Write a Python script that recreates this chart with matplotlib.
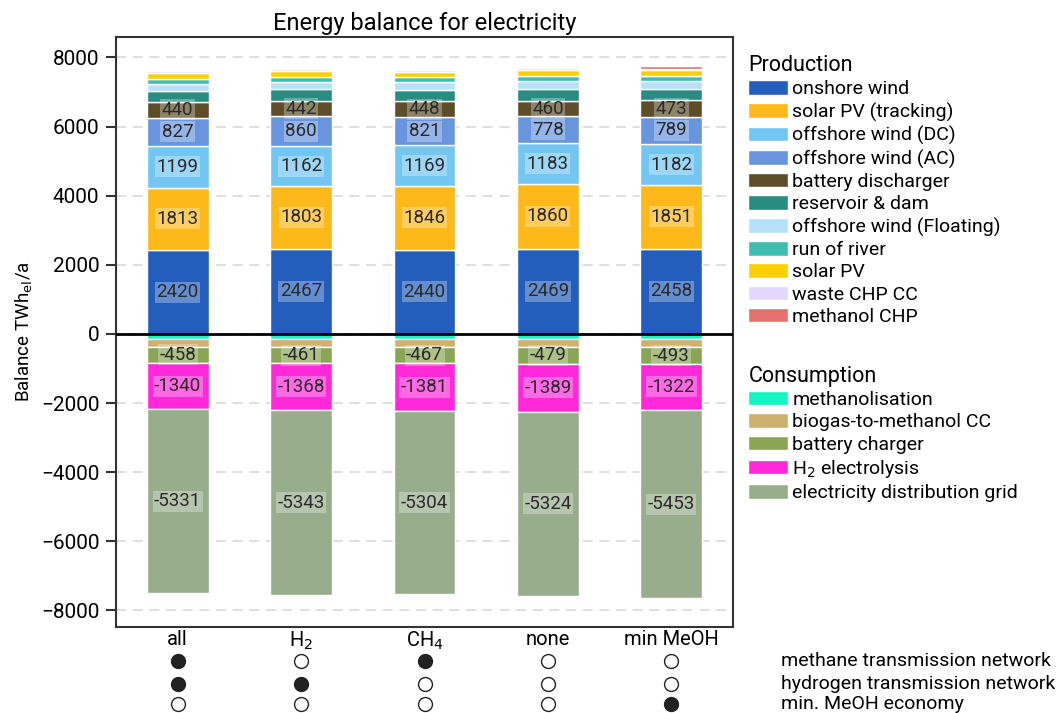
import numpy as np
import matplotlib
matplotlib.use("Agg")
from matplotlib import pyplot as plt
from matplotlib.patches import Patch

plt.rcParams['font.family'] = ['Roboto', 'DejaVu Sans']

scenarios = ["all", "H$_2$", "CH$_4$", "none", "min MeOH"]

prod_names = ["onshore wind", "solar PV (tracking)", "offshore wind (DC)", "offshore wind (AC)",
              "battery discharger", "reservoir & dam", "offshore wind (Floating)", "run of river",
              "solar PV", "waste CHP CC", "methanol CHP"]
prod_colors = ["#235ebc", "#fdb81a", "#74c6f2", "#6895dd", "#5d4e29", "#298c81", "#b5e2fa",
               "#3dbfb0", "#f9d002", "#e3d6ff", "#e5716f"]
prod_values = [
    [2420, 2467, 2440, 2469, 2458],   # onshore wind
    [1813, 1803, 1846, 1860, 1851],   # solar PV (tracking)
    [1199, 1162, 1169, 1183, 1182],   # offshore wind (DC)
    [827, 860, 821, 778, 789],        # offshore wind (AC)
    [440, 442, 448, 460, 473],        # battery discharger
    [330, 340, 330, 340, 340],        # reservoir & dam
    [210, 220, 220, 230, 230],        # offshore wind (Floating)
    [150, 150, 150, 150, 150],        # run of river
    [150, 150, 150, 160, 160],        # solar PV
    [60, 60, 60, 60, 40],             # waste CHP CC
    [0, 0, 0, 0, 90],                 # methanol CHP
]

cons_names = ["methanolisation", "biogas-to-methanol CC", "battery charger", "H$_2$ electrolysis",
              "electricity distribution grid"]
cons_colors = ["#14f5c0", "#ceb06f", "#8ba556", "#ff29d9", "#97ad8c"]
cons_values = [
    [-140, -140, -140, -140, -140],        # methanolisation
    [-240, -240, -240, -240, -240],        # biogas-to-methanol CC
    [-458, -461, -467, -479, -493],        # battery charger
    [-1340, -1368, -1381, -1389, -1322],   # H2 electrolysis
    [-5331, -5343, -5304, -5324, -5453],   # electricity distribution grid
]

methane_net = [1, 0, 1, 0, 0]
hydrogen_net = [1, 1, 0, 0, 0]
min_meoh = [0, 0, 0, 0, 1]
row_names = ["methane transmission network", "hydrogen transmission network", "min. MeOH economy"]

fig = plt.figure(figsize=(10.58, 7.13), dpi=100)
ax = fig.add_axes([116 / 1058, 1 - 627 / 713, 617 / 1058, 590 / 713])

x = np.arange(len(scenarios))
width = 0.5


def stack(values, colors, names):
    bottom = np.zeros(len(scenarios))
    for vals, col, name in zip(values, colors, names):
        vals = np.array(vals, dtype=float)
        ax.bar(x, vals, width, bottom=bottom, color=col, edgecolor="white", linewidth=1,
               label=name, zorder=3)
        for xi, b, v in zip(x, bottom, vals):
            if abs(v) >= 400:
                ax.text(xi, b + v / 2, "%d" % v, ha="center", va="center", fontsize=13.5,
                        color="#2a2a2a", zorder=4,
                        bbox=dict(boxstyle="square,pad=0.08", fc="white", ec="none", alpha=0.3))
        bottom = bottom + vals


stack(prod_values, prod_colors, prod_names)
stack(cons_values, cons_colors, cons_names)

ax.axhline(0, color="black", linewidth=2, zorder=5)
ax.set_xlim(-0.5, 4.5)
ax.set_ylim(-8480, 8590)
ax.set_yticks(np.arange(-8000, 8001, 2000))
ax.set_xticks(x)
ax.set_xticklabels(scenarios)
ax.tick_params(axis="y", labelsize=15, length=7, width=1.5, color="#333333", pad=5)
ax.tick_params(axis="x", labelsize=14.5, length=0, pad=2)
ax.yaxis.grid(True, linestyle=(0, (6, 4)), color="#d9d9d9", linewidth=1.2, zorder=0)
ax.set_axisbelow(True)
for sp in ax.spines.values():
    sp.set_color("#333333")
    sp.set_linewidth(1.5)
ax.set_title("Energy balance for electricity", fontsize=17, pad=5)
ax.set_ylabel("Balance TWh$_{\\rm el}$/a", fontsize=13.5)

prod_handles = [Patch(facecolor=c, edgecolor="white", label=n) for c, n in zip(prod_colors, prod_names)]
cons_handles = [Patch(facecolor=c, edgecolor="white", label=n) for c, n in zip(cons_colors, cons_names)]
leg_kw = dict(loc="upper left", frameon=False, fontsize=14, title_fontsize=15.5,
              handlelength=2.05, handleheight=0.77, handletextpad=0.2, labelspacing=0.22,
              borderaxespad=0, borderpad=0, alignment="left")
leg1 = ax.legend(handles=prod_handles, title="Production",
                 bbox_to_anchor=(1.025, 0.9695), **leg_kw)
ax.add_artist(leg1)
ax.legend(handles=cons_handles, title="Consumption",
          bbox_to_anchor=(1.025, 0.443), **leg_kw)

trans = ax.get_xaxis_transform()
rows = [methane_net, hydrogen_net, min_meoh]
row_px = [661, 684, 704]
for flags, py, name in zip(rows, row_px, row_names):
    yy = (627 - py) / 590
    for xi, f in zip(x, flags):
        ax.plot(xi, yy, "o", transform=trans, clip_on=False, markersize=10,
                markerfacecolor="#222222" if f else "white", markeredgecolor="#222222",
                markeredgewidth=1)
    fig.text(781 / 1058, 1 - py / 713, name, fontsize=14, va="center")

fig.savefig("out.png", dpi=100)
